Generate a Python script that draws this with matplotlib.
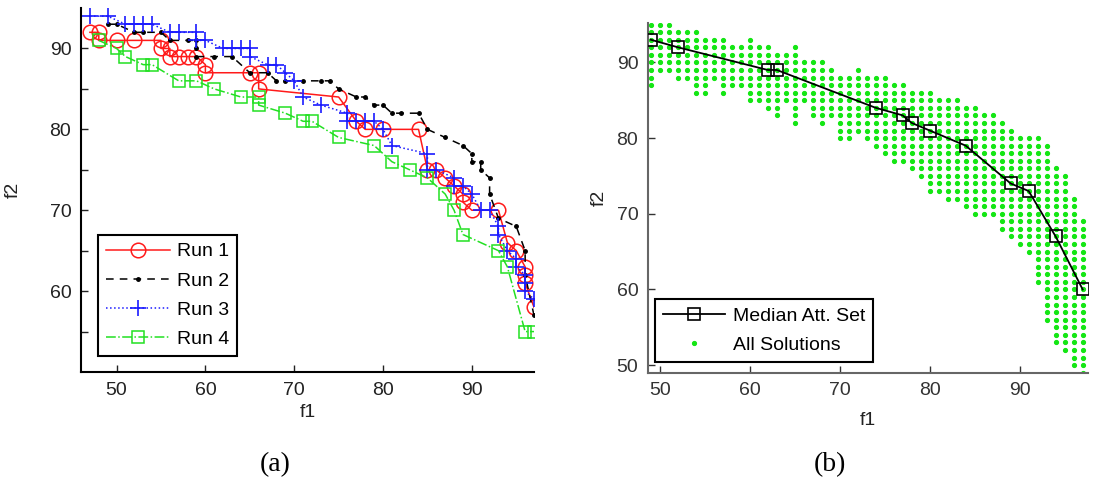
import matplotlib
matplotlib.use("Agg")
import matplotlib.pyplot as plt
import numpy as np

plt.rcParams['font.family'] = ['Liberation Sans', 'DejaVu Sans']

# ---------------- Panel (a) data ----------------
run1_f1 = [47, 48, 48, 50, 52, 55, 55, 56, 56, 57, 58, 59, 60, 60, 65, 66, 66, 75, 77, 78, 80, 84,
           85, 86, 87, 88, 89, 89, 90, 93, 94, 95, 96, 96, 96, 97]
run1_f2 = [92, 92, 91, 91, 91, 91, 90, 90, 89, 89, 89, 89, 88, 87, 87, 87, 85, 84, 81, 80, 80, 80,
           75, 75, 74, 73, 72, 71, 70, 70, 66, 65, 63, 62, 61, 58]

run2_f1 = [49, 50, 52, 53, 55, 56, 58, 59, 59, 59, 61, 63, 65, 67, 68, 69, 71, 73, 74, 75, 77, 78,
           79, 80, 81, 82, 84, 85, 87, 89, 90, 90, 91, 91, 92, 92, 93, 95, 96, 96, 97]
run2_f2 = [93, 93, 92, 92, 92, 91, 91, 91, 90, 89, 89, 89, 87, 87, 86, 86, 86, 86, 86, 85, 84, 84,
           83, 83, 82, 82, 82, 80, 79, 78, 77, 76, 76, 75, 74, 72, 69, 68, 65, 62, 57]

run3_f1 = [47, 49, 51, 52, 53, 54, 56, 57, 59, 59, 60, 62, 63, 64, 65, 65, 67, 68, 69, 70, 71, 73,
           76, 76, 77, 78, 79, 80, 81, 85, 85, 86, 88, 88, 89, 90, 91, 92, 93, 93, 94, 95, 95, 96,
           96, 96, 97]
run3_f2 = [94, 94, 93, 93, 93, 93, 92, 92, 92, 91, 91, 90, 90, 90, 90, 89, 88, 88, 87, 86, 84, 83,
           82, 81, 81, 81, 81, 80, 78, 77, 75, 75, 74, 73, 73, 72, 70, 70, 68, 67, 65, 64, 63, 62,
           61, 60, 59]

run4_f1 = [48, 50, 51, 53, 54, 57, 59, 61, 64, 66, 66, 69, 71, 72, 75, 79, 81, 83, 85, 87, 88, 89,
           93, 94, 96, 97]
run4_f2 = [91, 90, 89, 88, 88, 86, 86, 85, 84, 84, 83, 82, 81, 81, 79, 78, 76, 75, 74, 72, 70, 67,
           65, 63, 55, 55]

run_labels = ['Run 1', 'Run 2', 'Run 3', 'Run 4']

# ---------------- Panel (b) data ----------------
median_f1 = [49, 52, 62, 63, 74, 77, 78, 80, 84, 89, 91, 94, 97]
median_f2 = [93, 92, 89, 89, 84, 83, 82, 81, 79, 74, 73, 67, 60]

# solution cloud: for each integer f1 column, lowest and highest f2 observed
cloud_f1 = list(range(49, 98))
cloud_lo = [87, 89, 89, 88, 88, 86, 86, 88, 86, 87, 87, 85, 85, 84, 83, 85, 82, 85, 83, 82, 83,
            80, 80, 81, 80, 79, 78, 77, 77, 76, 75, 73, 73, 72, 72, 71, 70, 70, 70, 68, 67, 66,
            65, 61, 56, 53, 52, 50, 49]
cloud_hi = [95, 95, 95, 94, 94, 94, 93, 93, 93, 92, 92, 93, 92, 92, 91, 91, 92, 90, 90, 90, 89,
            88, 88, 89, 88, 88, 88, 87, 87, 86, 86, 86, 85, 85, 85, 84, 84, 83, 83, 82, 81, 80,
            80, 80, 79, 76, 75, 72, 69]

legend_b = ['Median Att. Set', 'All Solutions']

# ---------------- Figure ----------------
fig = plt.figure(figsize=(11.07, 4.87), dpi=100)

FS = 14
axA = fig.add_axes([0.0732, 0.2361, 0.4092, 0.7474])
red = '#ff1a1a'
blue = '#1a1aff'
green = '#22e022'
axA.plot(run1_f1, run1_f2, '-', color=red, lw=1.1, marker='o', ms=10.5, mfc='none', mew=1.1,
         label=run_labels[0])
axA.plot(run2_f1, run2_f2, '--', color='black', lw=1.1, marker='.', ms=5, label=run_labels[1],
         dashes=(5, 4))
axA.plot(run3_f1, run3_f2, ':', color=blue, lw=1.1, marker='+', ms=11, mew=1.2, label=run_labels[2])
axA.plot(run4_f1, run4_f2, '-.', color=green, lw=1.1, marker='s', ms=8, mfc='none', mew=1.1,
         label=run_labels[3])
axA.set_xlim(46, 97)
axA.set_ylim(50, 95)
axA.set_xticks([50, 60, 70, 80, 90])
axA.set_yticks([55, 60, 65, 70, 75, 80, 85, 90])
axA.set_yticklabels(['', '60', '', '70', '', '80', '', '90'])
axA.tick_params(direction='in', length=5, width=1, labelsize=FS, colors='#222222', pad=7)
for s in ['top', 'right']:
    axA.spines[s].set_visible(False)
for s in ['left', 'bottom']:
    axA.spines[s].set_linewidth(1.5)
axA.set_xlabel('f1', fontsize=FS, color='#222222', labelpad=4)
axA.set_ylabel('f2', fontsize=FS, color='#222222', labelpad=20)
legA = axA.legend(loc='lower left', bbox_to_anchor=(0.0375, 0.044), borderaxespad=0,
                  fancybox=False, edgecolor='black', fontsize=FS, handlelength=3.3,
                  handletextpad=0.35, borderpad=0.4, labelspacing=0.6, framealpha=1)
legA.get_frame().set_linewidth(1.5)

axB = fig.add_axes([0.5854, 0.2347, 0.3975, 0.718])
cx, cy = [], []
for f, lo, hi in zip(cloud_f1, cloud_lo, cloud_hi):
    for v in range(lo, hi + 1):
        cx.append(f)
        cy.append(v)
axB.plot(median_f1, median_f2, '-', color='black', lw=1.3, marker='s', ms=9, mfc='none', mew=1.2,
         label=legend_b[0], zorder=3)
axB.plot(cx, cy, '.', color='#14e614', ms=5.5, ls='none', label=legend_b[1], zorder=2)
axB.set_xlim(48.7, 97.6)
axB.set_ylim(49, 95.2)
axB.set_xticks([50, 60, 70, 80, 90])
axB.set_yticks([50, 60, 70, 80, 90])
axB.tick_params(direction='in', length=5, width=1, labelsize=FS, colors='#333333', pad=7)
for s in ['top', 'right']:
    axB.spines[s].set_visible(False)
for s in ['left', 'bottom']:
    axB.spines[s].set_linewidth(1.5)
    axB.spines[s].set_color('#666666')
axB.set_xlabel('f1', fontsize=FS, color='#222222', labelpad=9)
axB.set_ylabel('f2', fontsize=FS, color='#222222', labelpad=6)
legB = axB.legend(loc='lower left', bbox_to_anchor=(0.016, 0.031), borderaxespad=0,
                  fancybox=False, edgecolor='black', fontsize=FS, handlelength=3.2,
                  handletextpad=0.4, borderpad=0.4, labelspacing=0.6, framealpha=1)
legB.get_frame().set_linewidth(1.5)

fig.text(0.2485, 0.045, '(a)', fontsize=20, family=['Liberation Serif', 'DejaVu Serif'],
         ha='center', va='center')
fig.text(0.7497, 0.045, '(b)', fontsize=20, family=['Liberation Serif', 'DejaVu Serif'],
         ha='center', va='center')

fig.savefig('out.png', dpi=100)
